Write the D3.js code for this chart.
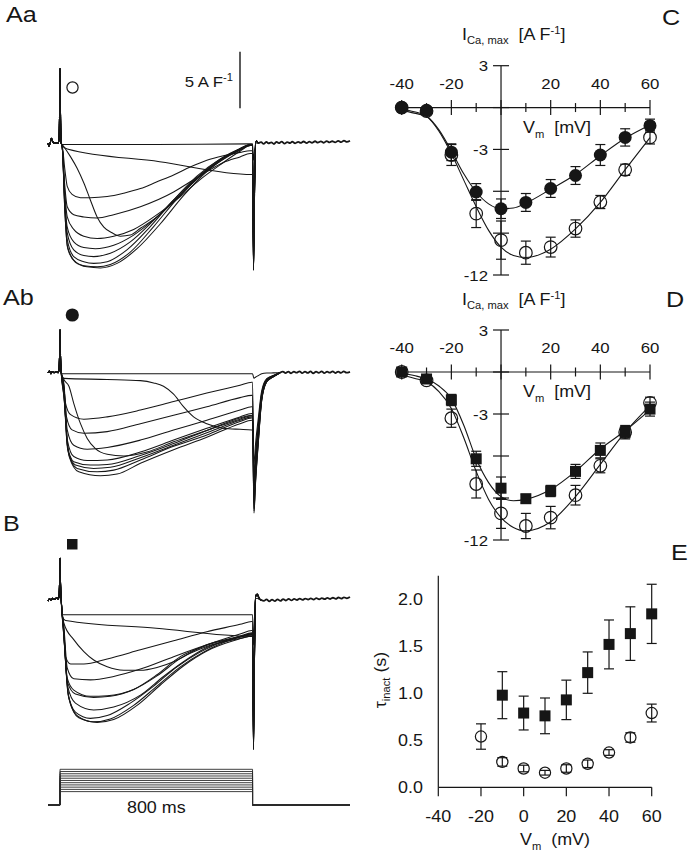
<!DOCTYPE html>
<html><head><meta charset="utf-8">
<script src="https://cdn.jsdelivr.net/npm/d3@7"></script>
<style>
body{margin:0;background:#fff}
svg{display:block;background:#fff}
text{font-family:"Liberation Sans",Arial,Helvetica,sans-serif;fill:#161616}
</style></head>
<body><svg width="689" height="853"></svg>
<script>
// ---------------- DATA ----------------
// I-V panels (C, D)
const vm = [-40,-30,-20,-10,0,10,20,30,40,50,60];
const cFilled    = [0,-0.2,-3.2,-6.05,-7.25,-6.8,-5.8,-4.87,-3.4,-2.14,-1.3];
const cFilledErr = [0,0,0.6,0.6,0.7,0.64,0.64,0.64,0.75,0.62,0.47];
const cOpen      = [0,-0.25,-3.4,-7.6,-9.5,-10.4,-10.0,-8.67,-6.77,-4.46,-2.14];
const cOpenErr   = [0,0,0.75,1.0,1.37,0.83,0.71,0.62,0.47,0.4,0.47];
const fitV       = [-40,-35,-30,-25,-20,-15,-10,-5,0,5,10,20,30,40,50,60];
const cFitFilled = [-0.1,-0.3,-0.6,-1.6,-3.1,-4.75,-6.05,-6.9,-7.25,-7.2,-6.85,-5.85,-4.8,-3.45,-2.2,-1.25];
const cFitOpen   = [-0.2,-0.4,-0.65,-1.7,-3.3,-5.2,-7.1,-8.8,-10.0,-10.6,-10.75,-10.15,-8.7,-6.8,-4.45,-2.15];
const dSquare    = [0,-0.5,-2.0,-6.2,-8.3,-9.05,-8.5,-7.1,-5.6,-4.3,-2.65];
const dSquareErr = [0,0.15,0.4,0.54,0.8,0.3,0.4,0.5,0.53,0.48,0.5];
const dOpen      = [0,-0.6,-3.3,-8.0,-10.1,-11.0,-10.4,-8.8,-6.7,-4.3,-2.2];
const dOpenErr   = [0,0,0.65,1.0,1.07,0.9,0.8,0.7,0.5,0.4,0.4];
const dFitSquare = [-0.07,-0.25,-0.5,-1.0,-1.9,-3.8,-6.2,-7.9,-8.9,-9.2,-9.1,-8.4,-7.1,-5.5,-4.2,-2.7];
const dFitOpen   = [-0.2,-0.45,-0.7,-1.4,-2.6,-4.7,-7.1,-9.1,-10.4,-11.1,-11.35,-10.7,-8.9,-6.6,-4.3,-2.4];
const ivXTicks = [-40,-30,-20,-10,0,10,20,30,40,50,60];
const ivXLabels = [-40,-20,20,40,60];
const ivYTicks = [3,0,-3,-6,-9,-12];
const ivYLabels = [3,-3,-12];

// tau_inact panel (E)
const eSqV   = [-10,0,10,20,30,40,50,60];
const eSq    = [0.98,0.79,0.76,0.93,1.22,1.52,1.635,1.845];
const eSqErr = [0.25,0.18,0.19,0.21,0.22,0.26,0.285,0.315];
const eOpV   = [-20,-10,0,10,20,30,40,50,60];
const eOp    = [0.54,0.27,0.20,0.155,0.20,0.25,0.37,0.53,0.79];
const eOpErr = [0.135,0.045,0.035,0.025,0.04,0.04,0.03,0.05,0.095];
const eXTicks = [-40,-20,0,20,40,60];
const eYTicks = [0,0.5,1.0,1.5,2.0];

// current traces: [time ms, current A/F]
const preAa = [[-50,0],[-46,-0.25],[-40,0.1],[-36,0.45],[-31,0.2],[-25,0],[-15,0.05],[-8,0]];
const spikeAa = [[-4,0.4],[-2,2.5],[0,6.6],[2,2.5],[5,0]];
const tracesAa = [
 [[9,-0.1],[400,-0.1],[790,-0.05]],
 [[9,-0.2],[30,-0.5],[414,-1.62],[797,-2.75]],
 [[16,-0.3],[44,-1.2],[71,-2.2],[99,-3.5],[126,-5.0],[154,-6.5],[182,-7.4],[216,-7.9],[251,-8.2],[292,-8.1],[334,-7.5],[403,-6.5],[472,-5.1],[541,-3.7],[610,-2.4],[679,-1.3],[748,-0.6],[790,-0.2]],
 [[9,-0.2],[20,-2.3],[30,-3.8],[50,-4.5],[85,-4.8],[126,-4.8],[196,-4.7],[265,-4.4],[334,-4.0],[403,-3.4],[472,-2.8],[541,-2.1],[610,-1.5],[679,-1.1],[748,-0.8],[790,-0.65]],
 [[9,-0.3],[20,-3.8],[30,-5.6],[57,-6.3],[99,-6.5],[154,-6.6],[223,-6.3],[334,-5.6],[472,-4.3],[541,-3.4],[610,-2.5],[679,-1.7],[748,-1.2],[790,-0.9]],
 [[9,-0.3],[20,-4.4],[30,-6.5],[57,-7.6],[99,-8.2],[154,-8.4],[223,-8.2],[306,-7.6],[403,-6.3],[500,-4.7],[582,-3.2],[665,-1.9],[748,-0.7],[790,-0.2]],
 [[9,-0.3],[20,-5.0],[30,-7.4],[57,-8.7],[99,-9.2],[147,-9.3],[223,-9.0],[306,-8.1],[403,-6.5],[500,-4.6],[582,-2.9],[665,-1.6],[748,-0.6],[790,-0.2]],
 [[9,-0.3],[20,-5.3],[30,-7.9],[57,-9.4],[99,-9.9],[140,-10.0],[209,-9.7],[292,-8.7],[389,-6.8],[486,-4.7],[582,-2.8],[665,-1.5],[748,-0.5],[790,-0.15]],
 [[9,-0.3],[20,-5.6],[30,-8.5],[57,-10.0],[99,-10.45],[140,-10.6],[196,-10.45],[278,-9.4],[375,-7.35],[472,-5.0],[569,-2.9],[665,-1.4],[748,-0.5],[790,-0.1]],
 [[9,-0.3],[20,-5.9],[30,-9.0],[57,-10.3],[99,-10.8],[154,-10.9],[209,-10.7],[292,-9.6],[389,-7.35],[486,-4.9],[582,-2.8],[665,-1.4],[748,-0.45],[790,-0.1]],
 [[9,-0.3],[20,-6.0],[32,-9.3],[64,-10.5],[112,-10.9],[168,-11.0],[237,-10.6],[320,-9.3],[417,-7.1],[514,-4.6],[610,-2.5],[693,-1.2],[762,-0.35],[790,-0.1]]
];
const tailDepthAa = [-1.5,-9,-10,-9.5,-10,-10.5,-11,-11,-11.2,-11.2,-11.2];
const tailShapeAa = [[804,1],[809,0.3],[815,-0.02],[825,0]];
const postAa = [[825,0],[836,0.1],[846,-0.05],[858,0.12],[866,0],[878,0.08],[889,-0.06],[900,0.12],[909,0.02],[921,0.14],[933,-0.03],[944,0.1],[956,0.02],[965,0.15],[977,0],[990,0.12],[1000,0.04],[1012,0.16],[1025,0.02],[1036,0.14],[1047,0.05],[1060,0.18],[1071,0.06],[1084,0.17],[1096,0.05],[1108,0.2],[1120,0.08],[1131,0.18],[1143,0.08],[1156,0.22],[1168,0.1],[1180,0.24],[1192,0.12],[1205,0.22]];

const preAb = [[-50,0],[-44,0.15],[-38,-0.1],[-32,0.1],[-25,0],[-15,0.1],[-8,0]];
const spikeAb = [[-4,0.3],[-2,1.5],[0,3.8],[2,1.5],[5,0]];
const tracesAb = [
 [[9,-0.1],[400,-0.1],[790,-0.1]],
 [[16,-0.5],[196,-0.6],[334,-0.7],[389,-0.9],[430,-1.2],[472,-1.9],[513,-3.0],[555,-3.9],[610,-4.5],[679,-4.9],[748,-5.0],[797,-5.05]],
 [[16,-0.6],[37,-1.2],[57,-2.7],[85,-4.5],[113,-5.8],[147,-6.7],[196,-7.2],[265,-7.35],[361,-7.0],[472,-6.1],[610,-5.1],[748,-4.1],[797,-3.8]],
 [[13,-0.65],[23,-2.7],[44,-3.7],[99,-4.1],[196,-3.9],[334,-3.3],[472,-2.55],[610,-1.8],[748,-1.1],[797,-0.85]],
 [[16,-0.95],[27,-3.9],[50,-5.05],[99,-5.35],[196,-5.2],[334,-4.5],[472,-3.75],[610,-3.0],[748,-2.2],[797,-2.0]],
 [[16,-1.2],[30,-5.05],[57,-6.4],[113,-6.75],[196,-6.6],[334,-5.95],[472,-5.05],[610,-4.2],[748,-3.3],[797,-3.0]],
 [[16,-1.5],[30,-5.9],[57,-7.4],[113,-7.75],[196,-7.7],[334,-7.0],[472,-5.95],[610,-4.9],[748,-3.9],[797,-3.6]],
 [[16,-1.7],[30,-6.4],[57,-7.85],[126,-8.15],[196,-8.1],[334,-7.3],[472,-6.25],[610,-5.1],[748,-4.0],[797,-3.75]],
 [[16,-1.8],[32,-6.8],[64,-8.15],[140,-8.45],[209,-8.35],[334,-7.5],[472,-6.4],[610,-5.3],[748,-4.2],[797,-3.9]],
 [[16,-2.0],[35,-7.1],[71,-8.45],[154,-8.75],[223,-8.6],[334,-7.7],[472,-6.5],[610,-5.5],[748,-4.3],[797,-4.0]],
 [[16,-2.1],[38,-7.4],[78,-8.75],[168,-9.1],[237,-8.95],[334,-8.0],[472,-6.8],[610,-5.7],[748,-4.5],[797,-4.2]]
];
const tailDepthAb = [-0.5,-8,-9,-9.5,-10,-10.5,-11,-11.5,-12,-12.2,-12.4];
const tailShapeAb = [[806,1],[812,0.8],[824,0.5],[838,0.2],[859,0.065],[886,0.03],[914,0]];
const postAb = [[914,0],[926,0.1],[937,-0.03],[949,0.09],[960,-0.05],[972,0.1],[983,0],[995,0.12],[1006,-0.04],[1018,0.1],[1029,-0.02],[1041,0.11],[1052,-0.05],[1064,0.09],[1075,-0.02],[1087,0.12],[1098,-0.04],[1110,0.1],[1121,0],[1133,0.12],[1144,-0.03],[1156,0.1],[1167,-0.02],[1179,0.12],[1190,0],[1205,0.08]];

const preB = [[-50,-0.1],[-44,0.1],[-38,0],[-30,0.15],[-22,0.05],[-14,0.2],[-8,0.1]];
const spikeB = [[-4,0.3],[-2,1.5],[0,3.7],[2,1.5],[5,0]];
const tracesB = [
 [[8,-1.3],[400,-1.3],[790,-1.3]],
 [[10,-1.5],[23,-1.8],[400,-2.5],[797,-3.2]],
 [[16,-2.05],[57,-3.5],[99,-4.55],[140,-5.3],[196,-5.9],[265,-6.2],[334,-6.2],[403,-5.95],[472,-5.45],[541,-4.7],[610,-4.1],[748,-3.4],[797,-3.2]],
 [[13,-2.05],[23,-5.0],[44,-5.65],[99,-5.65],[196,-5.2],[334,-4.4],[472,-3.6],[610,-2.8],[748,-2.15],[797,-1.9]],
 [[16,-2.35],[30,-6.0],[57,-6.95],[126,-7.05],[223,-6.75],[334,-6.1],[472,-5.0],[610,-3.95],[748,-3.0],[797,-2.7]],
 [[16,-2.65],[30,-6.9],[57,-7.95],[126,-8.5],[196,-8.45],[306,-7.9],[403,-6.7],[500,-5.15],[610,-3.95],[748,-3.2],[797,-2.9]],
 [[16,-2.8],[30,-7.2],[64,-8.3],[140,-8.6],[209,-8.5],[306,-7.9],[403,-6.6],[500,-5.0],[610,-4.0],[748,-3.25],[797,-3.0]],
 [[16,-2.95],[32,-7.65],[64,-9.1],[140,-9.7],[223,-9.45],[334,-8.4],[430,-6.75],[513,-5.45],[610,-4.2],[748,-3.25],[797,-2.95]],
 [[16,-3.1],[33,-8.2],[64,-9.9],[126,-10.45],[196,-10.2],[292,-9.1],[389,-7.6],[486,-5.9],[582,-4.6],[700,-3.5],[797,-3.05]],
 [[16,-3.2],[35,-8.5],[71,-10.2],[140,-10.75],[209,-10.5],[306,-9.3],[403,-7.6],[500,-5.9],[596,-4.6],[700,-3.6],[797,-3.1]],
 [[16,-3.3],[37,-8.7],[78,-10.4],[154,-10.8],[223,-10.55],[320,-9.3],[417,-7.5],[514,-5.8],[610,-4.5],[720,-3.6],[797,-3.2]]
];
const tailDepthB = [-4,-10,-11,-11,-12,-12.5,-12.8,-13,-13.2,-13.2,-13.2];
const tailShapeB = [[804,1],[808,0.4],[813,-0.03],[820,-0.04],[828,-0.01],[836,0]];
const postB = [[836,0],[847,-0.08],[858,0.06],[870,-0.12],[881,0.04],[893,-0.1],[904,0.06],[916,-0.08],[927,0.08],[939,-0.05],[950,0.1],[962,-0.04],[973,0.1],[985,0],[996,0.12],[1008,0.01],[1019,0.13],[1031,0.03],[1042,0.14],[1054,0.04],[1065,0.16],[1077,0.06],[1088,0.17],[1100,0.07],[1111,0.19],[1123,0.09],[1134,0.2],[1146,0.1],[1157,0.22],[1169,0.12],[1180,0.24],[1192,0.15],[1205,0.26]];

// voltage protocol
const testV = [-40,-30,-20,-10,0,10,20,30,40,50,60];
const holdV = -100;
const pulseMs = 800;

// ---------------- DRAWING ----------------
const svg = d3.select('svg');
const SX = 1.12;
const INK = '#161616';

function rich(x, y, parts, o = {}) {
  const size = o.size || 16;
  const t = svg.append('text')
    .attr('transform', `translate(${x},${y})` + (o.rotate ? ` rotate(${o.rotate})` : '') + ` scale(${o.sx || SX},1)`)
    .attr('text-anchor', o.anchor || 'start')
    .attr('font-size', size);
  parts.forEach(p => {
    const ts = t.append('tspan').text(p.t);
    if (p.s) ts.attr('font-size', p.s);
    if (p.dy) ts.attr('dy', p.dy);
  });
  return t;
}

// panel letters
rich(6, 22, [{t:'Aa'}], {size:22.5});
rich(3, 305, [{t:'Ab'}], {size:22.5});
rich(3, 531, [{t:'B'}], {size:22.5});
rich(662, 25, [{t:'C'}], {size:22.5});
rich(666, 307, [{t:'D'}], {size:22.5});
rich(671, 560, [{t:'E'}], {size:22.5});

// ---- traces ----
const xT = d3.scaleLinear([-50, 1205], [48, 350]);
function drawTraces(base, pre, spike, bodies, depths, shape, post) {
  const y = d3.scaleLinear([0, -10], [base, base + 113.3]);
  const line = d3.line().x(d => xT(d[0])).y(d => y(d[1])).curve(d3.curveMonotoneX);
  const g = svg.append('g').attr('fill', 'none').attr('stroke', INK).attr('stroke-width', 1.05);
  bodies.forEach((b, i) => {
    const last = b[b.length - 1];
    const pts = [...pre, ...spike, ...b, [800, last[1]], ...shape.map(s => [s[0], depths[i] * s[1]])];
    g.append('path').attr('d', line(pts));
  });
  g.append('path').attr('d', line(post)).attr('stroke-width', 1.8);
  return y;
}
drawTraces(143.3, preAa, spikeAa, tracesAa, tailDepthAa, tailShapeAa, postAa);
drawTraces(372.7, preAb, spikeAb, tracesAb, tailDepthAb, tailShapeAb, postAb);
drawTraces(600, preB, spikeB, tracesB, tailDepthB, tailShapeB, postB);

// condition markers
svg.append('circle').attr('cx', 72.5).attr('cy', 87.5).attr('r', 5.6).attr('fill', 'none').attr('stroke', INK).attr('stroke-width', 1.2);
svg.append('circle').attr('cx', 72.3).attr('cy', 315).attr('r', 6.6).attr('fill', INK);
svg.append('rect').attr('x', 67).attr('y', 539).attr('width', 10.5).attr('height', 10.5).attr('fill', INK);

// scale bar
svg.append('line').attr('x1', 240).attr('x2', 240).attr('y1', 51.7).attr('y2', 108.3).attr('stroke', INK).attr('stroke-width', 1.4);
rich(233, 87.3, [{t:'5 A F'}, {t:'-1', s:10, dy:-6}], {anchor:'end', size:15});

// voltage protocol
const yV = d3.scaleLinear([holdV, 60], [805, 769.3]);
const vLine = d3.line().x(d => xT(d[0])).y(d => yV(d[1]));
const gp = svg.append('g').attr('fill', 'none').attr('stroke', '#2a2a2a').attr('stroke-width', 0.9);
testV.forEach(v => {
  gp.append('path').attr('d', vLine([[-50, holdV], [0, holdV], [0, v], [pulseMs, v], [pulseMs, holdV], [1205, holdV]]));
});
rich((xT(0) + xT(pulseMs)) / 2, 813, [{t:'800 ms'}], {anchor:'middle', size:16});

// ---- I-V panels ----
function ivPanel(top, bottom, open, openErr, filled, filledErr, fitOpen, fitFilled, square) {
  const x = d3.scaleLinear([-40, 60], [401.7, 650]);
  const y = d3.scaleLinear([3, -12], [top, bottom]);
  const g = svg.append('g').attr('fill', 'none').attr('stroke', INK).attr('stroke-width', 1.2);
  g.append('line').attr('x1', x(-40)).attr('x2', x(60)).attr('y1', y(0)).attr('y2', y(0));
  g.append('line').attr('x1', x(0)).attr('x2', x(0)).attr('y1', y(3)).attr('y2', y(-12));
  ivXTicks.forEach(v => {
    const L = v % 20 === 0 ? 7.5 : 4.5;
    g.append('line').attr('x1', x(v)).attr('x2', x(v)).attr('y1', y(0) - L).attr('y2', y(0) + L);
  });
  ivYTicks.forEach(v => {
    g.append('line').attr('x1', x(0) - 8).attr('x2', x(0) + 8).attr('y1', y(v)).attr('y2', y(v));
  });
  ivXLabels.forEach(v => rich(x(v), y(0) - 19, [{t: String(v)}], {anchor:'middle', size:15}));
  ivYLabels.forEach(v => rich(488, y(v) + 5.5, [{t: String(v)}], {anchor:'end', size:15}));
  rich(462, top - 25.5, [{t:'I'}, {t:'Ca, max', s:10, dy:4}, {t:'\u00a0\u00a0[A F', dy:-4}, {t:'-1', s:10, dy:-6}, {t:']', dy:6}], {size:16});
  rich(523, y(0) + 25, [{t:'V'}, {t:'m', s:10, dy:5}, {t:'\u00a0\u00a0[mV]', dy:-5}], {size:16});
  const fl = d3.line().x((d, i) => x(fitV[i])).y(d => y(d)).curve(d3.curveMonotoneX);
  g.append('path').attr('d', fl(fitOpen)).attr('stroke-width', 1.1);
  g.append('path').attr('d', fl(fitFilled)).attr('stroke-width', 1.1);
  function bars(vals, errs) {
    vals.forEach((v, i) => {
      if (!errs[i]) return;
      const cx = x(vm[i]);
      g.append('line').attr('x1', cx).attr('x2', cx).attr('y1', y(v + errs[i])).attr('y2', y(v - errs[i]));
      [v + errs[i], v - errs[i]].forEach(e => g.append('line').attr('x1', cx - 5).attr('x2', cx + 5).attr('y1', y(e)).attr('y2', y(e)));
    });
  }
  bars(open, openErr);
  bars(filled, filledErr);
  open.forEach((v, i) => g.append('circle').attr('cx', x(vm[i])).attr('cy', y(v)).attr('r', 6.3).attr('stroke-width', 1.2));
  filled.forEach((v, i) => {
    if (square) g.append('rect').attr('x', x(vm[i]) - 5.5).attr('y', y(v) - 5.5).attr('width', 11).attr('height', 11).attr('fill', INK).attr('stroke', 'none');
    else g.append('circle').attr('cx', x(vm[i])).attr('cy', y(v)).attr('r', 6.5).attr('fill', INK).attr('stroke', 'none');
  });
}
ivPanel(65.7, 275, cOpen, cOpenErr, cFilled, cFilledErr, cFitOpen, cFitFilled, false);
ivPanel(330, 540, dOpen, dOpenErr, dSquare, dSquareErr, dFitOpen, dFitSquare, true);

// ---- tau panel E ----
(function () {
  const x = d3.scaleLinear([-40, 60], [438.3, 651.7]);
  const y = d3.scaleLinear([0, 2.25], [787.3, 575.8]);
  const g = svg.append('g').attr('fill', 'none').attr('stroke', INK).attr('stroke-width', 1.2);
  g.append('line').attr('x1', x(-40)).attr('x2', x(60)).attr('y1', y(0)).attr('y2', y(0));
  g.append('line').attr('x1', x(-40)).attr('x2', x(-40)).attr('y1', y(0)).attr('y2', y(2.25));
  eXTicks.forEach(v => g.append('line').attr('x1', x(v)).attr('x2', x(v)).attr('y1', y(0)).attr('y2', y(0) + 9));
  eXTicks.forEach(v => rich(x(v), 821.7, [{t: String(v)}], {anchor:'middle', size:16}));
  eYTicks.forEach(v => rich(423, y(v) + 6, [{t: d3.format('.1f')(v)}], {anchor:'end', size:16}));
  rich(386, 680, [{t:'\u03c4'}, {t:'inact', s:10, dy:4}, {t:'\u00a0(s)', dy:-4}], {anchor:'middle', size:16, rotate:-90});
  rich(520, 845, [{t:'V'}, {t:'m', s:10, dy:5}, {t:'\u00a0\u00a0(mV)', dy:-5}], {size:16});
  function bars(vs, vals, errs) {
    vals.forEach((v, i) => {
      const cx = x(vs[i]);
      g.append('line').attr('x1', cx).attr('x2', cx).attr('y1', y(v + errs[i])).attr('y2', y(v - errs[i]));
      [v + errs[i], v - errs[i]].forEach(e => g.append('line').attr('x1', cx - 5).attr('x2', cx + 5).attr('y1', y(e)).attr('y2', y(e)));
    });
  }
  bars(eOpV, eOp, eOpErr);
  bars(eSqV, eSq, eSqErr);
  eOp.forEach((v, i) => g.append('circle').attr('cx', x(eOpV[i])).attr('cy', y(v)).attr('r', 5.6).attr('stroke-width', 1.2));
  eSq.forEach((v, i) => g.append('rect').attr('x', x(eSqV[i]) - 5.5).attr('y', y(v) - 5.5).attr('width', 11).attr('height', 11).attr('fill', INK).attr('stroke', 'none'));
})();
</script></body></html>
